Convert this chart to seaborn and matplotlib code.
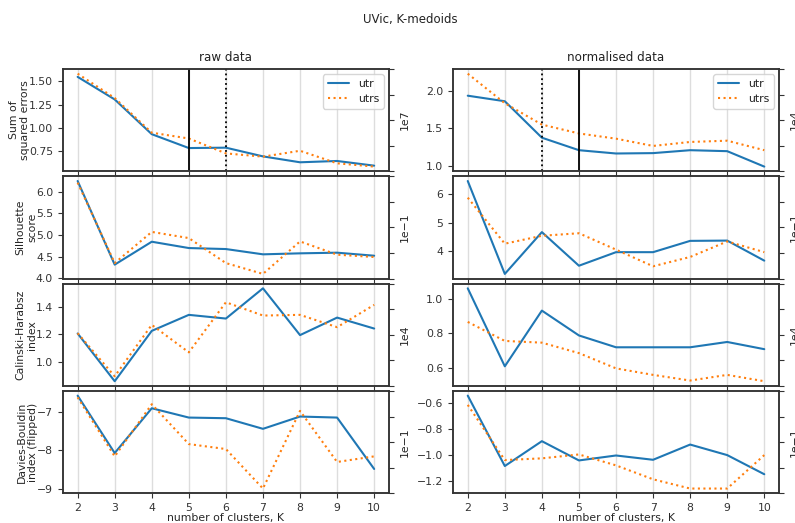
import matplotlib
matplotlib.use("Agg")
import matplotlib.pyplot as plt
import seaborn as sns
import pandas as pd

# number of clusters
k = [2, 3, 4, 5, 6, 7, 8, 9, 10]

# raw data (values shown in units of the scale label on the right)
sse_raw_utr = [1.546, 1.305, 0.934, 0.786, 0.790, 0.697, 0.634, 0.648, 0.598]
sse_raw_utrs = [1.580, 1.320, 0.950, 0.888, 0.729, 0.694, 0.757, 0.623, 0.588]
sil_raw_utr = [6.245, 4.314, 4.843, 4.697, 4.674, 4.552, 4.575, 4.590, 4.520]
sil_raw_utrs = [6.207, 4.350, 5.070, 4.927, 4.350, 4.100, 4.850, 4.544, 4.490]
ch_raw_utr = [1.206, 0.857, 1.225, 1.342, 1.315, 1.536, 1.194, 1.322, 1.242]
ch_raw_utrs = [1.208, 0.893, 1.269, 1.068, 1.434, 1.337, 1.342, 1.252, 1.415]
db_raw_utr = [-6.565, -8.070, -6.896, -7.140, -7.157, -7.435, -7.113, -7.140, -8.487]
db_raw_utrs = [-6.610, -8.157, -6.790, -7.835, -7.965, -9.000, -6.965, -8.304, -8.157]

# normalised data
sse_norm_utr = [1.934, 1.860, 1.373, 1.206, 1.162, 1.167, 1.206, 1.193, 0.987]
sse_norm_utrs = [2.228, 1.833, 1.548, 1.430, 1.360, 1.263, 1.316, 1.333, 1.206]
sil_norm_utr = [6.47, 3.18, 4.66, 3.47, 3.95, 3.95, 4.35, 4.36, 3.65]
sil_norm_utrs = [5.88, 4.25, 4.53, 4.62, 4.04, 3.45, 3.78, 4.33, 3.95]
ch_norm_utr = [1.063, 0.608, 0.933, 0.788, 0.719, 0.719, 0.719, 0.750, 0.708]
ch_norm_utrs = [0.867, 0.756, 0.746, 0.685, 0.596, 0.558, 0.525, 0.558, 0.521]
db_norm_utr = [-0.542, -1.083, -0.892, -1.040, -1.002, -1.035, -0.918, -0.999, -1.146]
db_norm_utrs = [-0.613, -1.037, -1.024, -0.994, -1.078, -1.185, -1.256, -1.256, -0.999]

# y tick labels per panel
yticks_raw = [['0.75', '1.00', '1.25', '1.50'],
              ['4.0', '4.5', '5.0', '5.5', '6.0'],
              ['1.0', '1.2', '1.4'],
              ['\u22129', '\u22128', '\u22127']]
yticks_norm = [['1.0', '1.5', '2.0'],
               ['4', '5', '6'],
               ['0.6', '0.8', '1.0'],
               ['\u22121.2', '\u22121.0', '\u22120.8', '\u22120.6']]

row_labels = ['Sum of\nsquared errors', 'Silhouette\nscore',
              'Calinski-Harabsz\nindex', 'Davies-Bouldin\nindex (flipped)']
col_titles = ['raw data', 'normalised data']
scales_raw = ['1e7', '1e\u22121', '1e4', '1e\u22121']
scales_norm = ['1e4', '1e\u22121', '1e4', '1e\u22121']
best_raw = (5, 6)    # solid, dotted
best_norm = (5, 4)

raw = [(sse_raw_utr, sse_raw_utrs), (sil_raw_utr, sil_raw_utrs),
       (ch_raw_utr, ch_raw_utrs), (db_raw_utr, db_raw_utrs)]
norm = [(sse_norm_utr, sse_norm_utrs), (sil_norm_utr, sil_norm_utrs),
        (ch_norm_utr, ch_norm_utrs), (db_norm_utr, db_norm_utrs)]

sns.set_theme(style="ticks")
plt.rcParams['font.family'] = ['DejaVu Sans']
plt.rcParams.update({
    'xtick.labelsize': 7.8, 'ytick.labelsize': 7.8,
    'axes.labelsize': 7.8, 'legend.fontsize': 7.8,
    'axes.titlesize': 8.6, 'axes.edgecolor': '#333333',
    'axes.linewidth': 1.1, 'text.color': '#222222',
    'xtick.color': '#333333', 'ytick.color': '#333333',
    'xtick.major.size': 3.5, 'ytick.major.size': 3.5,
    'xtick.major.width': 0.8, 'ytick.major.width': 0.8,
    'xtick.major.pad': 3.5, 'ytick.major.pad': 3.5,
})

fig, axs = plt.subplots(4, 2, figsize=(7.95, 5.23), dpi=100, sharex=True)
fig.subplots_adjust(left=0.079, right=0.98, bottom=0.057, top=0.868,
                    hspace=0.05, wspace=0.196)

for col, (series, scales, best, yt) in enumerate([
        (raw, scales_raw, best_raw, yticks_raw),
        (norm, scales_norm, best_norm, yticks_norm)]):
    for row in range(4):
        ax = axs[row, col]
        utr, utrs = series[row]
        df = pd.DataFrame({'k': k, 'utr': utr, 'utrs': utrs})
        ax.grid(axis='x', color='#dddddd', lw=1)
        sns.lineplot(data=df, x='k', y='utr', ax=ax, color='tab:blue',
                     lw=1.5, label='utr', legend=False)
        sns.lineplot(data=df, x='k', y='utrs', ax=ax, color='tab:orange',
                     lw=1.5, linestyle=':', label='utrs', legend=False)
        if row == 0:
            ax.axvline(best[0], color='black', lw=1.3)
            ax.axvline(best[1], color='black', lw=1.3, linestyle=':')
            ax.legend(loc='upper right')
            ax.set_title(col_titles[col])
        elif ax.get_legend() is not None:
            ax.get_legend().remove()
        ax.set_xlabel('number of clusters, K' if row == 3 else '', labelpad=0)
        ax.set_ylabel(row_labels[row] if col == 0 else '', labelpad=-1)
        ax.set_xticks(k)
        ax.set_xlim(1.6, 10.4)
        ax.set_yticks([float(t.replace('\u2212', '-')) for t in yt[row]])
        ax.set_yticklabels(yt[row])
        twin = ax.twinx()
        twin.tick_params(labelright=False)
        twin.set_ylabel(scales[row])

fig.suptitle('UVic, K-medoids', x=0.516, y=0.975, fontsize=8.5)
plt.savefig('out.png', dpi=100)
